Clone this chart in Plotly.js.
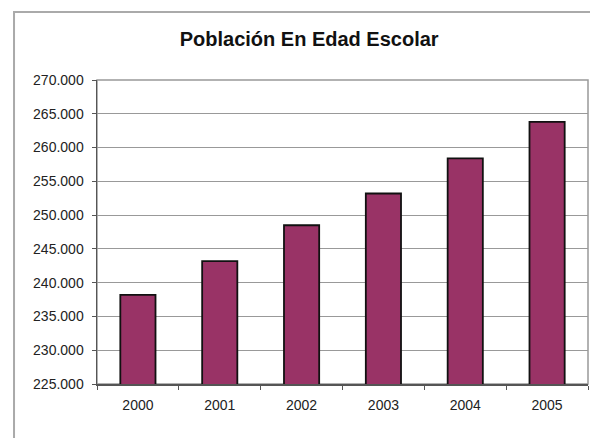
<!DOCTYPE html>
<html>
<head>
<meta charset="utf-8">
<script src="https://cdn.plot.ly/plotly-3.0.1.min.js"></script>
<style>html,body{margin:0;padding:0;background:#fff;}#chart{width:590px;height:438px;}</style>
</head>
<body>
<div id="chart"></div>
<script>
const years = ['2000', '2001', '2002', '2003', '2004', '2005'];
const population = [238200, 243200, 248500, 253200, 258400, 263800];
const yTicks = [225000, 230000, 235000, 240000, 245000, 250000, 255000, 260000, 265000, 270000];
const chartTitle = 'Población En Edad Escolar';

const trace = {
  type: 'bar',
  x: years,
  y: population,
  width: 0.43,
  marker: {color: '#993366', line: {color: '#111', width: 1.8}},
  hoverinfo: 'x+y'
};

const layout = {
  width: 590, height: 438,
  margin: {l: 97, r: 2, t: 80, b: 54},
  paper_bgcolor: '#fff', plot_bgcolor: '#fff',
  separators: ',.',
  showlegend: false,
  font: {family: '"Liberation Sans", Arial, sans-serif', size: 14, color: '#222'},
  title: {
    text: '<b>' + chartTitle + '</b>',
    font: {size: 20, color: '#111', family: '"Liberation Sans", Arial, sans-serif'},
    xref: 'container', x: 0.524, xanchor: 'center',
    yref: 'container', y: 0.911, yanchor: 'middle'
  },
  xaxis: {
    type: 'category',
    showline: true, linecolor: '#555', linewidth: 1.5,
    ticks: 'outside', ticklen: 4, tickcolor: '#555', tickson: 'boundaries',
    ticklabelstandoff: 8,
    showgrid: false,
    tickfont: {size: 14, color: '#222'}
  },
  yaxis: {
    range: [225000, 270000],
    tickvals: yTicks,
    tickformat: ',d',
    showline: true, linecolor: '#555', linewidth: 1.5,
    ticks: 'outside', ticklen: 4, tickcolor: '#555',
    ticklabelstandoff: 5,
    showgrid: true, gridcolor: '#999', gridwidth: 1.2,
    zeroline: false,
    tickfont: {size: 14, color: '#222'}
  },
  shapes: [
    {type: 'rect', xref: 'paper', yref: 'paper', x0: 0, x1: 1, y0: 0, y1: 1,
     line: {color: '#999', width: 1.5}, layer: 'below'},
    {type: 'rect', xref: 'paper', yref: 'paper', x0: -0.169, x1: 1.05, y0: -0.25, y1: 1.2237,
     line: {color: '#aaa', width: 2}, layer: 'below'}
  ]
};

Plotly.newPlot('chart', [trace], layout, {displayModeBar: false, staticPlot: true});
</script>
</body>
</html>
